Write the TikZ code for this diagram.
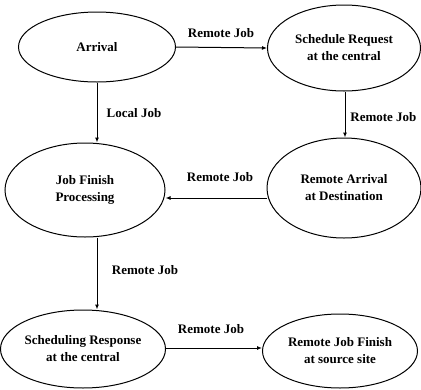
\documentclass[tikz,border=0pt]{standalone}
\usepackage{fontspec}
\setmainfont{Liberation Serif}
\usetikzlibrary{arrows.meta,shapes.geometric}
\begin{document}
\begin{tikzpicture}[x=1pt,y=-1pt,
  st/.style={draw,ellipse,line width=1pt,inner sep=0pt,align=center,font=\fontsize{13}{17}\selectfont\bfseries},
  lab/.style={font=\fontsize{13}{15}\selectfont\bfseries},
  conn/.style={line width=1pt,-{Latex[length=5pt,width=4pt]}}]
\useasboundingbox (0,0) rectangle (421,389);
\node[st,minimum width=157,minimum height=70] (arr) at (97,47) {Arrival};
\node[st,minimum width=153,minimum height=86] (sreq) at (344,48) {Schedule Request\\at the central};
\node[st,minimum width=160,minimum height=94] (jfp) at (85,190) {Job Finish\\Processing};
\node[st,minimum width=154,minimum height=100] (rad) at (344,188) {Remote Arrival\\at Destination};
\node[st,minimum width=160,minimum height=78] (sresp) at (83,349) {Scheduling Response\\at the central};
\node[st,minimum width=155,minimum height=74] (rjf) at (340,351) {Remote Job Finish\\at source site};
\draw[conn] (arr.east) -- (sreq.west);
\draw[conn] (arr.south -| 97,0) -- (jfp.north -| 97,0);
\draw[conn] (sreq.south -| 345,0) -- (rad.north -| 345,0);
\draw[conn] (rad.west |- 0,198) -- (jfp.east |- 0,198);
\draw[conn] (jfp.south -| 97,0) -- (sresp.north -| 97,0);
\draw[conn] (sresp.east |- 0,348) -- (rjf.west |- 0,348);
\node[lab] (l1) at (221,33) {Remote Job};
\node[lab] (l2) at (134,113) {Local Job};
\node[lab,anchor=east] (l3) at (420,117) {Remote Job};
\node[lab] (l4) at (220,177) {Remote Job};
\node[lab] (l5) at (145,270) {Remote Job};
\node[lab] (l6) at (211,329) {Remote Job};
\end{tikzpicture}
\end{document}
